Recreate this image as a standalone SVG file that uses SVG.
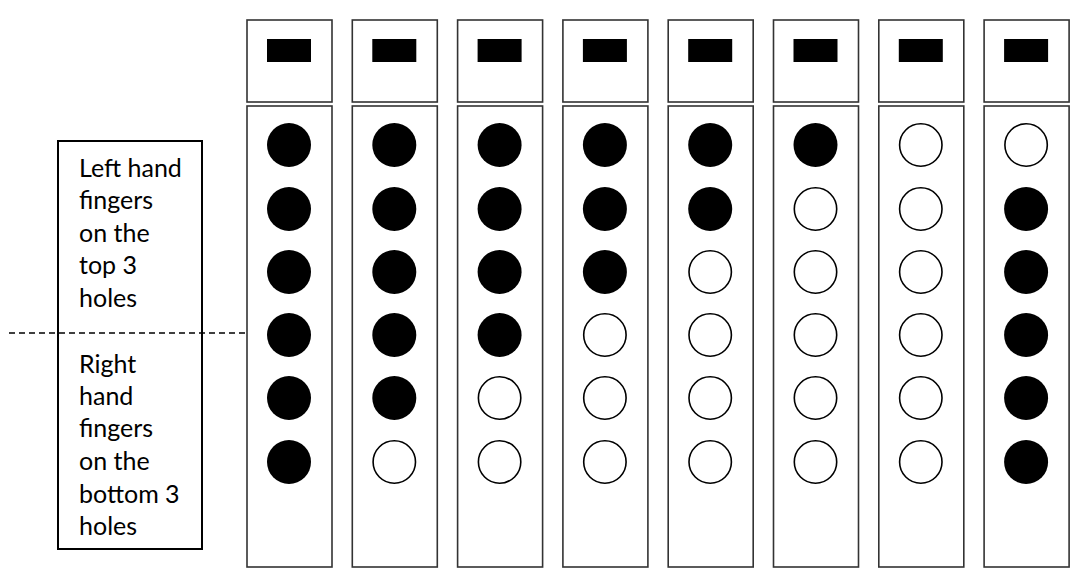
<svg xmlns="http://www.w3.org/2000/svg" width="1072" height="571" viewBox="0 0 1072 571">
<style>
.box{fill:#fff;stroke:#333;stroke-width:1.6}
.mp{fill:#000}
.on{fill:#000}
.off{fill:#fff;stroke:#000;stroke-width:1.6}
.lbl{fill:#fff;stroke:#000;stroke-width:2}
.t{font-family:Lato,"Liberation Sans",sans-serif;font-size:25px;fill:#000}
.dash{stroke:#000;stroke-width:1.4;stroke-dasharray:6 4;fill:none}
</style>
<rect width="1072" height="571" fill="#fff"/>
<defs>
<g id="head"><rect class="box" x="0" y="20" width="85" height="82"/><rect class="mp" x="20" y="39" width="44" height="23"/><rect class="box" x="0" y="106" width="85" height="461"/></g>
</defs>
<g id="label">
<rect class="lbl" x="58" y="141" width="144" height="408"/>
<text class="t" x="79" y="177">Left hand</text>
<text class="t" x="79" y="209">fingers</text>
<text class="t" x="79" y="242">on the</text>
<text class="t" x="79" y="274">top 3</text>
<text class="t" x="79" y="307">holes</text>
<text class="t" x="79" y="373">Right</text>
<text class="t" x="79" y="405">hand</text>
<text class="t" x="79" y="437">fingers</text>
<text class="t" x="79" y="470">on the</text>
<text class="t" x="79" y="503">bottom 3</text>
<text class="t" x="79" y="535">holes</text>
</g>
<g id="connectors">
<line class="dash" x1="9" y1="333" x2="248" y2="333"/>
</g>
<g id="col1" transform="translate(247,0)"><use href="#head"/>
<circle class="on" cx="42" cy="145" r="22"/><circle class="on" cx="42" cy="209" r="22"/><circle class="on" cx="42" cy="272" r="22"/><circle class="on" cx="42" cy="335" r="22"/><circle class="on" cx="42" cy="398" r="22"/><circle class="on" cx="42" cy="462" r="22"/></g>
<g id="col2" transform="translate(352.3,0)"><use href="#head"/>
<circle class="on" cx="42" cy="145" r="22"/><circle class="on" cx="42" cy="209" r="22"/><circle class="on" cx="42" cy="272" r="22"/><circle class="on" cx="42" cy="335" r="22"/><circle class="on" cx="42" cy="398" r="22"/><circle class="off" cx="42" cy="462" r="21.2"/></g>
<g id="col3" transform="translate(457.6,0)"><use href="#head"/>
<circle class="on" cx="42" cy="145" r="22"/><circle class="on" cx="42" cy="209" r="22"/><circle class="on" cx="42" cy="272" r="22"/><circle class="on" cx="42" cy="335" r="22"/><circle class="off" cx="42" cy="398" r="21.2"/><circle class="off" cx="42" cy="462" r="21.2"/></g>
<g id="col4" transform="translate(562.9,0)"><use href="#head"/>
<circle class="on" cx="42" cy="145" r="22"/><circle class="on" cx="42" cy="209" r="22"/><circle class="on" cx="42" cy="272" r="22"/><circle class="off" cx="42" cy="335" r="21.2"/><circle class="off" cx="42" cy="398" r="21.2"/><circle class="off" cx="42" cy="462" r="21.2"/></g>
<g id="col5" transform="translate(668.2,0)"><use href="#head"/>
<circle class="on" cx="42" cy="145" r="22"/><circle class="on" cx="42" cy="209" r="22"/><circle class="off" cx="42" cy="272" r="21.2"/><circle class="off" cx="42" cy="335" r="21.2"/><circle class="off" cx="42" cy="398" r="21.2"/><circle class="off" cx="42" cy="462" r="21.2"/></g>
<g id="col6" transform="translate(773.5,0)"><use href="#head"/>
<circle class="on" cx="42" cy="145" r="22"/><circle class="off" cx="42" cy="209" r="21.2"/><circle class="off" cx="42" cy="272" r="21.2"/><circle class="off" cx="42" cy="335" r="21.2"/><circle class="off" cx="42" cy="398" r="21.2"/><circle class="off" cx="42" cy="462" r="21.2"/></g>
<g id="col7" transform="translate(878.8,0)"><use href="#head"/>
<circle class="off" cx="42" cy="145" r="21.2"/><circle class="off" cx="42" cy="209" r="21.2"/><circle class="off" cx="42" cy="272" r="21.2"/><circle class="off" cx="42" cy="335" r="21.2"/><circle class="off" cx="42" cy="398" r="21.2"/><circle class="off" cx="42" cy="462" r="21.2"/></g>
<g id="col8" transform="translate(984.1,0)"><use href="#head"/>
<circle class="off" cx="42" cy="145" r="21.2"/><circle class="on" cx="42" cy="209" r="22"/><circle class="on" cx="42" cy="272" r="22"/><circle class="on" cx="42" cy="335" r="22"/><circle class="on" cx="42" cy="398" r="22"/><circle class="on" cx="42" cy="462" r="22"/></g>
</svg>
